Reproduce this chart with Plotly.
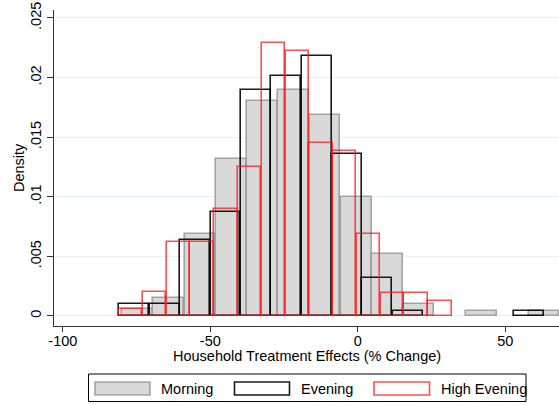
import plotly.graph_objects as go
import numpy as np

# ---- data (densities) ----
morning_start, morning_width = -80.0, 10.6
morning_density = [0.0006, 0.0015, 0.0069, 0.0132, 0.0180, 0.0190, 0.0169,
                   0.0100, 0.0052, 0.0010, 0.0, 0.0004, 0.0, 0.0004]

evening_start, evening_width = -80.9, 10.3
evening_density = [0.0010, 0.0010, 0.0064, 0.0087, 0.0190, 0.0201, 0.0218,
                   0.01357, 0.0032, 0.00045, 0.0, 0.0, 0.0, 0.00045]

high_start, high_width = -81.0, 8.06
high_density = [0.0006, 0.0020, 0.0062, 0.0062, 0.0090, 0.01247, 0.0229,
                0.02226, 0.01454, 0.01387, 0.0069, 0.00196, 0.00196, 0.00128]

x_ticks = [-100, -50, 0, 50]
x_ticklabels = ["-100", "-50", "0", "50"]
y_ticks = [0, 0.005, 0.01, 0.015, 0.02, 0.025]
y_ticklabels = ["0", ".005", ".01", ".015", ".02", ".025"]
legend_labels = ["Morning", "Evening", "High Evening"]
x_title = "Household Treatment Effects (% Change)"
y_title = "Density"

FONT = "Liberation Sans, Arial, sans-serif"
FS = 14.5


def bins(start, width, dens):
    d = np.array(dens)
    centers = start + width * (np.arange(len(d)) + 0.5)
    keep = d > 0
    return centers[keep], d[keep]


fig = go.Figure()

cx, cy = bins(morning_start, morning_width, morning_density)
fig.add_trace(go.Bar(x=cx, y=cy, width=morning_width * 0.985, name=legend_labels[0],
                     marker=dict(color="#d9d9d9",
                                 line=dict(color="rgba(140,140,140,0.75)", width=1.6)),
                     showlegend=False))

cx, cy = bins(evening_start, evening_width, evening_density)
fig.add_trace(go.Bar(x=cx, y=cy, width=evening_width * 0.985, name=legend_labels[1],
                     marker=dict(color="rgba(0,0,0,0)",
                                 line=dict(color="rgba(0,0,0,0.9)", width=1.6)),
                     showlegend=False))

cx, cy = bins(high_start, high_width, high_density)
fig.add_trace(go.Bar(x=cx, y=cy, width=high_width * 0.985, name=legend_labels[2],
                     marker=dict(color="rgba(0,0,0,0)",
                                 line=dict(color="rgba(255,20,20,0.75)", width=1.6)),
                     showlegend=False))

# ---- manual legend (Stata-style wide keys) and axis titles ----
L, R, T, B = 54, 559, 10, 326


def px(x):
    return (x - L) / (R - L)


def py(y):
    return (B - y) / (B - T)


shapes = [
    dict(type="rect", xref="paper", yref="paper", x0=px(88.5), x1=px(526), y0=py(401.5), y1=py(374),
         line=dict(color="black", width=1), fillcolor="white", layer="above"),
    dict(type="rect", xref="paper", yref="paper", x0=px(95), x1=px(150), y0=py(395), y1=py(382),
         line=dict(color="rgba(140,140,140,0.75)", width=1.6), fillcolor="#d9d9d9"),
    dict(type="rect", xref="paper", yref="paper", x0=px(234.5), x1=px(289.5), y0=py(395), y1=py(382),
         line=dict(color="rgba(0,0,0,0.9)", width=1.6), fillcolor="rgba(0,0,0,0)"),
    dict(type="rect", xref="paper", yref="paper", x0=px(374), x1=px(429.5), y0=py(395), y1=py(382),
         line=dict(color="rgba(255,20,20,0.75)", width=1.6), fillcolor="rgba(0,0,0,0)"),
]
annotations = []
for lbl, xx in zip(legend_labels, [159, 298.5, 438.5]):
    annotations.append(dict(text=lbl, xref="paper", yref="paper", x=px(xx), y=py(388.5),
                            xanchor="left", yanchor="middle", showarrow=False,
                            font=dict(family=FONT, size=FS, color="black")))
annotations.append(dict(text=x_title, xref="paper", yref="paper", x=px(306.5), y=py(355.5),
                        xanchor="center", yanchor="middle", showarrow=False,
                        font=dict(family=FONT, size=FS, color="black")))
annotations.append(dict(text=y_title, xref="paper", yref="paper", x=px(19), y=py(168),
                        xanchor="center", yanchor="middle", showarrow=False, textangle=-90,
                        font=dict(family=FONT, size=FS, color="black")))

fig.update_layout(
    width=559, height=405,
    margin=dict(l=L, r=0, t=T, b=405 - B, autoexpand=False),
    paper_bgcolor="white", plot_bgcolor="white",
    barmode="overlay", bargap=0,
    font=dict(family=FONT, size=FS, color="black"),
    shapes=shapes, annotations=annotations,
    xaxis=dict(range=[-103.0, 68.2], tickvals=x_ticks, ticktext=x_ticklabels,
               ticks="outside", ticklen=5, tickcolor="#333", showline=True, linecolor="#333",
               linewidth=1, showgrid=False, zeroline=False, ticklabelstandoff=-3,
               automargin=False),
    yaxis=dict(range=[-0.00084, 0.02567], tickvals=y_ticks, ticktext=y_ticklabels,
               tickangle=-90, ticks="outside", ticklen=6, tickcolor="#333", showline=True,
               linecolor="#333", linewidth=1, showgrid=True, gridcolor="#e9f0f1", gridwidth=1,
               zeroline=False, automargin=False),
)

fig.write_html("out.html", config={"displayModeBar": False},
               post_script="document.body.style.margin='0px';")
